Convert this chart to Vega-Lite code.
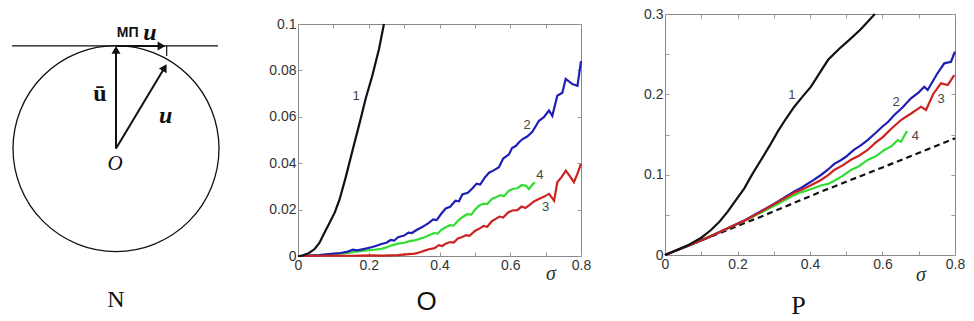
{
  "$schema": "https://vega.github.io/schema/vega-lite/v6.json",
  "padding": 0,
  "spacing": 46,
  "background": "white",
  "config": {
    "view": {"stroke": "#888", "strokeWidth": 1},
    "axis": {"grid": false, "domain": false, "labelFont": "Liberation Sans", "labelFontSize": 14, "labelColor": "#333", "tickColor": "#999", "tickSize": -4, "labelPadding": 6, "labelOverlap": false, "labelFlush": false, "titleFontWeight": "normal"}
  },
  "datasets": {
    "a_circle": [{"x": 0, "y": 0}],
    "a_line": [
      {"x": -1.01, "y": 1, "x2": 0.99, "y2": 1},
      {"x": 0.492, "y": 1, "x2": 0.492, "y2": 0.903}
    ],
    "a_arrows": [
      {"x": 0, "y": 0, "x2": 0, "y2": 0.95},
      {"x": 0, "y": 0, "x2": 0.468, "y2": 0.783},
      {"x": 0, "y": 1, "x2": 0.44, "y2": 1}
    ],
    "a_head_up": [{"x": 0, "y": 0.962}],
    "a_head_slant": [{"x": 0.4725, "y": 0.789}],
    "a_head_right": [{"x": 0.442, "y": 1}],
    "a_ubar": [{"x": -0.155, "y": 0.531, "t": "ū"}],
    "a_u": [{"x": 0.482, "y": 0.32, "t": "u"}, {"x": 0.33, "y": 1.13, "t": "u"}],
    "a_sym": [{"x": 0.113, "y": 1.13, "t": "ΜΠ"}],
    "a_o": [{"x": -0.01, "y": -0.149, "t": "O"}],
    "a_cap": [{"x": 0, "y": -1.476, "t": "N"}],
    "b": [
      {"c": "4", "x": 0, "y": 0}, {"c": "4", "x": 0.04, "y": 0.0002}, {"c": "4", "x": 0.08, "y": 0.0006}, {"c": "4", "x": 0.11, "y": 0.0009}, {"c": "4", "x": 0.141, "y": 0.0013}, {"c": "4", "x": 0.165, "y": 0.0019}, {"c": "4", "x": 0.1885, "y": 0.0023}, {"c": "4", "x": 0.21, "y": 0.0026}, {"c": "4", "x": 0.2355, "y": 0.0031}, {"c": "4", "x": 0.25, "y": 0.0037}, {"c": "4", "x": 0.265, "y": 0.0046}, {"c": "4", "x": 0.2827, "y": 0.0053}, {"c": "4", "x": 0.3, "y": 0.0057}, {"c": "4", "x": 0.315, "y": 0.0064}, {"c": "4", "x": 0.33, "y": 0.0067}, {"c": "4", "x": 0.345, "y": 0.0075}, {"c": "4", "x": 0.36, "y": 0.0082}, {"c": "4", "x": 0.37, "y": 0.0089}, {"c": "4", "x": 0.385, "y": 0.0099}, {"c": "4", "x": 0.395, "y": 0.0097}, {"c": "4", "x": 0.405, "y": 0.0113}, {"c": "4", "x": 0.4175, "y": 0.0124}, {"c": "4", "x": 0.43, "y": 0.0133}, {"c": "4", "x": 0.44, "y": 0.0131}, {"c": "4", "x": 0.452, "y": 0.0152}, {"c": "4", "x": 0.4645, "y": 0.0167}, {"c": "4", "x": 0.478, "y": 0.018}, {"c": "4", "x": 0.49, "y": 0.0178}, {"c": "4", "x": 0.5, "y": 0.0199}, {"c": "4", "x": 0.5117, "y": 0.0217}, {"c": "4", "x": 0.525, "y": 0.0226}, {"c": "4", "x": 0.535, "y": 0.0224}, {"c": "4", "x": 0.548, "y": 0.0246}, {"c": "4", "x": 0.559, "y": 0.0253}, {"c": "4", "x": 0.572, "y": 0.0262}, {"c": "4", "x": 0.582, "y": 0.0258}, {"c": "4", "x": 0.595, "y": 0.028}, {"c": "4", "x": 0.606, "y": 0.0289}, {"c": "4", "x": 0.62, "y": 0.0292}, {"c": "4", "x": 0.632, "y": 0.0305}, {"c": "4", "x": 0.644, "y": 0.0304}, {"c": "4", "x": 0.653, "y": 0.0289}, {"c": "4", "x": 0.662, "y": 0.0307}, {"c": "4", "x": 0.67, "y": 0.0318},
      {"c": "2", "x": 0, "y": 0}, {"c": "2", "x": 0.03, "y": 0.0002}, {"c": "2", "x": 0.06, "y": 0.0004}, {"c": "2", "x": 0.094, "y": 0.0009}, {"c": "2", "x": 0.12, "y": 0.0013}, {"c": "2", "x": 0.141, "y": 0.0019}, {"c": "2", "x": 0.155, "y": 0.0027}, {"c": "2", "x": 0.168, "y": 0.0024}, {"c": "2", "x": 0.1885, "y": 0.0031}, {"c": "2", "x": 0.21, "y": 0.0039}, {"c": "2", "x": 0.222, "y": 0.0044}, {"c": "2", "x": 0.2355, "y": 0.0052}, {"c": "2", "x": 0.25, "y": 0.0057}, {"c": "2", "x": 0.262, "y": 0.0069}, {"c": "2", "x": 0.272, "y": 0.0066}, {"c": "2", "x": 0.2827, "y": 0.0081}, {"c": "2", "x": 0.3, "y": 0.0088}, {"c": "2", "x": 0.312, "y": 0.0101}, {"c": "2", "x": 0.322, "y": 0.0099}, {"c": "2", "x": 0.335, "y": 0.0112}, {"c": "2", "x": 0.35, "y": 0.0124}, {"c": "2", "x": 0.36, "y": 0.0133}, {"c": "2", "x": 0.37, "y": 0.0143}, {"c": "2", "x": 0.382, "y": 0.0158}, {"c": "2", "x": 0.392, "y": 0.0155}, {"c": "2", "x": 0.405, "y": 0.0182}, {"c": "2", "x": 0.4175, "y": 0.0205}, {"c": "2", "x": 0.43, "y": 0.0212}, {"c": "2", "x": 0.445, "y": 0.0238}, {"c": "2", "x": 0.455, "y": 0.0236}, {"c": "2", "x": 0.4645, "y": 0.0265}, {"c": "2", "x": 0.48, "y": 0.0272}, {"c": "2", "x": 0.4927, "y": 0.0291}, {"c": "2", "x": 0.505, "y": 0.0312}, {"c": "2", "x": 0.515, "y": 0.0308}, {"c": "2", "x": 0.528, "y": 0.0338}, {"c": "2", "x": 0.54, "y": 0.0359}, {"c": "2", "x": 0.552, "y": 0.0368}, {"c": "2", "x": 0.568, "y": 0.0383}, {"c": "2", "x": 0.58, "y": 0.042}, {"c": "2", "x": 0.5965, "y": 0.0438}, {"c": "2", "x": 0.605, "y": 0.0465}, {"c": "2", "x": 0.6154, "y": 0.0474}, {"c": "2", "x": 0.625, "y": 0.049}, {"c": "2", "x": 0.634, "y": 0.0503}, {"c": "2", "x": 0.648, "y": 0.0515}, {"c": "2", "x": 0.6624, "y": 0.0535}, {"c": "2", "x": 0.6813, "y": 0.0583}, {"c": "2", "x": 0.695, "y": 0.0598}, {"c": "2", "x": 0.7095, "y": 0.0627}, {"c": "2", "x": 0.7189, "y": 0.0604}, {"c": "2", "x": 0.733, "y": 0.0691}, {"c": "2", "x": 0.7472, "y": 0.0704}, {"c": "2", "x": 0.7567, "y": 0.0763}, {"c": "2", "x": 0.7755, "y": 0.0741}, {"c": "2", "x": 0.79, "y": 0.0734}, {"c": "2", "x": 0.8, "y": 0.084},
      {"c": "3", "x": 0, "y": 0}, {"c": "3", "x": 0.05, "y": 0.0001}, {"c": "3", "x": 0.1, "y": 0.0002}, {"c": "3", "x": 0.15, "y": 0.0001}, {"c": "3", "x": 0.2, "y": 0.0003}, {"c": "3", "x": 0.24, "y": 0.0002}, {"c": "3", "x": 0.2827, "y": 0.0004}, {"c": "3", "x": 0.305, "y": 0.0007}, {"c": "3", "x": 0.33, "y": 0.001}, {"c": "3", "x": 0.345, "y": 0.0016}, {"c": "3", "x": 0.358, "y": 0.0023}, {"c": "3", "x": 0.37, "y": 0.0029}, {"c": "3", "x": 0.386, "y": 0.0034}, {"c": "3", "x": 0.398, "y": 0.0047}, {"c": "3", "x": 0.408, "y": 0.0043}, {"c": "3", "x": 0.4175, "y": 0.0053}, {"c": "3", "x": 0.43, "y": 0.006}, {"c": "3", "x": 0.44, "y": 0.0058}, {"c": "3", "x": 0.452, "y": 0.0076}, {"c": "3", "x": 0.4645, "y": 0.0082}, {"c": "3", "x": 0.475, "y": 0.009}, {"c": "3", "x": 0.485, "y": 0.0087}, {"c": "3", "x": 0.5, "y": 0.0108}, {"c": "3", "x": 0.5117, "y": 0.0117}, {"c": "3", "x": 0.525, "y": 0.013}, {"c": "3", "x": 0.535, "y": 0.0126}, {"c": "3", "x": 0.548, "y": 0.015}, {"c": "3", "x": 0.559, "y": 0.016}, {"c": "3", "x": 0.57, "y": 0.017}, {"c": "3", "x": 0.58, "y": 0.0166}, {"c": "3", "x": 0.594, "y": 0.0188}, {"c": "3", "x": 0.606, "y": 0.0196}, {"c": "3", "x": 0.62, "y": 0.0198}, {"c": "3", "x": 0.632, "y": 0.0213}, {"c": "3", "x": 0.643, "y": 0.0207}, {"c": "3", "x": 0.653, "y": 0.0218}, {"c": "3", "x": 0.668, "y": 0.0236}, {"c": "3", "x": 0.681, "y": 0.0246}, {"c": "3", "x": 0.696, "y": 0.0256}, {"c": "3", "x": 0.71, "y": 0.0268}, {"c": "3", "x": 0.724, "y": 0.0238}, {"c": "3", "x": 0.733, "y": 0.0318}, {"c": "3", "x": 0.745, "y": 0.034}, {"c": "3", "x": 0.757, "y": 0.0368}, {"c": "3", "x": 0.768, "y": 0.0345}, {"c": "3", "x": 0.78, "y": 0.0318}, {"c": "3", "x": 0.79, "y": 0.0355}, {"c": "3", "x": 0.8, "y": 0.0397},
      {"c": "1", "x": 0, "y": 0}, {"c": "1", "x": 0.009, "y": 0}, {"c": "1", "x": 0.03, "y": 0.0012}, {"c": "1", "x": 0.047, "y": 0.003}, {"c": "1", "x": 0.06, "y": 0.0055}, {"c": "1", "x": 0.0755, "y": 0.0102}, {"c": "1", "x": 0.09, "y": 0.0145}, {"c": "1", "x": 0.104, "y": 0.0188}, {"c": "1", "x": 0.118, "y": 0.0246}, {"c": "1", "x": 0.135, "y": 0.034}, {"c": "1", "x": 0.155, "y": 0.046}, {"c": "1", "x": 0.177, "y": 0.059}, {"c": "1", "x": 0.191, "y": 0.0677}, {"c": "1", "x": 0.21, "y": 0.0777}, {"c": "1", "x": 0.229, "y": 0.0892}, {"c": "1", "x": 0.243, "y": 0.1}
    ],
    "b_lab": [
      {"x": 0.164, "y": 0.069, "t": "1"}, {"x": 0.648, "y": 0.0565, "t": "2"}, {"x": 0.7, "y": 0.021, "t": "3"}, {"x": 0.684, "y": 0.0349, "t": "4"}
    ],
    "b_sig": [{"x": 0.715, "y": -0.0078, "t": "σ"}],
    "c": [
      {"c": "4", "x": 0, "y": 0}, {"c": "4", "x": 0.04, "y": 0.0072}, {"c": "4", "x": 0.0809, "y": 0.0143}, {"c": "4", "x": 0.125, "y": 0.0235}, {"c": "4", "x": 0.173, "y": 0.033}, {"c": "4", "x": 0.22, "y": 0.0425}, {"c": "4", "x": 0.2648, "y": 0.0528}, {"c": "4", "x": 0.31, "y": 0.0632}, {"c": "4", "x": 0.3567, "y": 0.0745}, {"c": "4", "x": 0.3752, "y": 0.078}, {"c": "4", "x": 0.4, "y": 0.0815}, {"c": "4", "x": 0.43, "y": 0.0865}, {"c": "4", "x": 0.45, "y": 0.0885}, {"c": "4", "x": 0.467, "y": 0.0925}, {"c": "4", "x": 0.49, "y": 0.0985}, {"c": "4", "x": 0.513, "y": 0.1058}, {"c": "4", "x": 0.535, "y": 0.1105}, {"c": "4", "x": 0.559, "y": 0.1183}, {"c": "4", "x": 0.58, "y": 0.1225}, {"c": "4", "x": 0.605, "y": 0.1307}, {"c": "4", "x": 0.625, "y": 0.1355}, {"c": "4", "x": 0.642, "y": 0.1431}, {"c": "4", "x": 0.651, "y": 0.141}, {"c": "4", "x": 0.6676, "y": 0.1543},
      {"c": "2", "x": 0, "y": 0}, {"c": "2", "x": 0.04, "y": 0.0072}, {"c": "2", "x": 0.0809, "y": 0.0147}, {"c": "2", "x": 0.125, "y": 0.0226}, {"c": "2", "x": 0.173, "y": 0.0332}, {"c": "2", "x": 0.22, "y": 0.0432}, {"c": "2", "x": 0.2648, "y": 0.0545}, {"c": "2", "x": 0.305, "y": 0.0648}, {"c": "2", "x": 0.3567, "y": 0.0792}, {"c": "2", "x": 0.3752, "y": 0.0835}, {"c": "2", "x": 0.4, "y": 0.0905}, {"c": "2", "x": 0.4303, "y": 0.0996}, {"c": "2", "x": 0.45, "y": 0.1065}, {"c": "2", "x": 0.467, "y": 0.1135}, {"c": "2", "x": 0.485, "y": 0.118}, {"c": "2", "x": 0.5, "y": 0.1226}, {"c": "2", "x": 0.52, "y": 0.1305}, {"c": "2", "x": 0.54, "y": 0.1365}, {"c": "2", "x": 0.559, "y": 0.1431}, {"c": "2", "x": 0.58, "y": 0.1515}, {"c": "2", "x": 0.6, "y": 0.16}, {"c": "2", "x": 0.615, "y": 0.1655}, {"c": "2", "x": 0.6326, "y": 0.1743}, {"c": "2", "x": 0.655, "y": 0.1835}, {"c": "2", "x": 0.6786, "y": 0.1951}, {"c": "2", "x": 0.7, "y": 0.2025}, {"c": "2", "x": 0.7153, "y": 0.2095}, {"c": "2", "x": 0.7246, "y": 0.2054}, {"c": "2", "x": 0.75, "y": 0.225}, {"c": "2", "x": 0.7705, "y": 0.2386}, {"c": "2", "x": 0.789, "y": 0.2406}, {"c": "2", "x": 0.8, "y": 0.2531},
      {"c": "3", "x": 0, "y": 0}, {"c": "3", "x": 0.04, "y": 0.0074}, {"c": "3", "x": 0.0809, "y": 0.0145}, {"c": "3", "x": 0.125, "y": 0.0232}, {"c": "3", "x": 0.173, "y": 0.0332}, {"c": "3", "x": 0.22, "y": 0.043}, {"c": "3", "x": 0.2648, "y": 0.054}, {"c": "3", "x": 0.31, "y": 0.0655}, {"c": "3", "x": 0.3567, "y": 0.0775}, {"c": "3", "x": 0.3752, "y": 0.0809}, {"c": "3", "x": 0.4, "y": 0.0862}, {"c": "3", "x": 0.4303, "y": 0.0934}, {"c": "3", "x": 0.45, "y": 0.0995}, {"c": "3", "x": 0.467, "y": 0.1058}, {"c": "3", "x": 0.49, "y": 0.1115}, {"c": "3", "x": 0.513, "y": 0.1185}, {"c": "3", "x": 0.535, "y": 0.1235}, {"c": "3", "x": 0.559, "y": 0.1307}, {"c": "3", "x": 0.58, "y": 0.1395}, {"c": "3", "x": 0.6, "y": 0.1465}, {"c": "3", "x": 0.625, "y": 0.1575}, {"c": "3", "x": 0.651, "y": 0.168}, {"c": "3", "x": 0.68, "y": 0.1765}, {"c": "3", "x": 0.7062, "y": 0.1846}, {"c": "3", "x": 0.72, "y": 0.1805}, {"c": "3", "x": 0.74, "y": 0.2005}, {"c": "3", "x": 0.7614, "y": 0.2137}, {"c": "3", "x": 0.78, "y": 0.2116}, {"c": "3", "x": 0.798, "y": 0.224},
      {"c": "1", "x": 0, "y": 0}, {"c": "1", "x": 0.02, "y": 0.0037}, {"c": "1", "x": 0.0441, "y": 0.0083}, {"c": "1", "x": 0.065, "y": 0.0125}, {"c": "1", "x": 0.0809, "y": 0.0166}, {"c": "1", "x": 0.1, "y": 0.0215}, {"c": "1", "x": 0.1269, "y": 0.0311}, {"c": "1", "x": 0.15, "y": 0.0415}, {"c": "1", "x": 0.173, "y": 0.054}, {"c": "1", "x": 0.195, "y": 0.068}, {"c": "1", "x": 0.2188, "y": 0.083}, {"c": "1", "x": 0.24, "y": 0.1}, {"c": "1", "x": 0.2648, "y": 0.1183}, {"c": "1", "x": 0.29, "y": 0.137}, {"c": "1", "x": 0.3109, "y": 0.1535}, {"c": "1", "x": 0.335, "y": 0.1705}, {"c": "1", "x": 0.3567, "y": 0.1846}, {"c": "1", "x": 0.38, "y": 0.1975}, {"c": "1", "x": 0.4028, "y": 0.2095}, {"c": "1", "x": 0.425, "y": 0.2255}, {"c": "1", "x": 0.45, "y": 0.243}, {"c": "1", "x": 0.48, "y": 0.2565}, {"c": "1", "x": 0.51, "y": 0.2685}, {"c": "1", "x": 0.54, "y": 0.281}, {"c": "1", "x": 0.579, "y": 0.3}
    ],
    "c_dash": [
      {"x": 0, "y": 0}, {"x": 0.1, "y": 0.0182}, {"x": 0.2, "y": 0.0362}, {"x": 0.2648, "y": 0.0477}, {"x": 0.4303, "y": 0.0788}, {"x": 0.6, "y": 0.109}, {"x": 0.8, "y": 0.1452}
    ],
    "c_lab": [
      {"x": 0.3503, "y": 0.1992, "t": "1"}, {"x": 0.6372, "y": 0.1908, "t": "2"}, {"x": 0.7614, "y": 0.1937, "t": "3"}, {"x": 0.6905, "y": 0.1481, "t": "4"}
    ],
    "c_sig": [{"x": 0.706, "y": -0.0249, "t": "σ"}],
    "spacer": []
  },
  "hconcat": [
    {
      "width": 219,
      "height": 307,
      "view": {"stroke": null},
      "encoding": {
        "x": {"field": "x", "type": "quantitative", "scale": {"domain": [-1.1262, 1.0], "nice": false, "zero": false}, "axis": null},
        "y": {"field": "y", "type": "quantitative", "scale": {"domain": [-1.6796, 1.311], "nice": false, "zero": false}, "axis": null}
      },
      "layer": [
        {"data": {"name": "a_circle"}, "mark": {"type": "point", "shape": "circle", "size": 42436, "filled": false, "color": "#111", "strokeWidth": 1.3, "opacity": 1}},
        {"data": {"name": "a_line"}, "mark": {"type": "rule", "color": "#111", "strokeWidth": 1.2}, "encoding": {"x2": {"field": "x2"}, "y2": {"field": "y2"}}},
        {"data": {"name": "a_arrows"}, "mark": {"type": "rule", "color": "#111", "strokeWidth": 2}, "encoding": {"x2": {"field": "x2"}, "y2": {"field": "y2"}}},
        {"data": {"name": "a_head_up"}, "mark": {"type": "point", "shape": "triangle-up", "size": 80, "filled": true, "color": "#111", "opacity": 1}},
        {"data": {"name": "a_head_slant"}, "mark": {"type": "point", "shape": "triangle-up", "size": 80, "filled": true, "color": "#111", "opacity": 1, "angle": 31}},
        {"data": {"name": "a_head_right"}, "mark": {"type": "point", "shape": "triangle-right", "size": 80, "filled": true, "color": "#111", "opacity": 1}},
        {"data": {"name": "a_ubar"}, "mark": {"type": "text", "font": "Liberation Serif", "fontWeight": "bold", "fontSize": 24, "color": "#111"}, "encoding": {"text": {"field": "t"}}},
        {"data": {"name": "a_u"}, "mark": {"type": "text", "font": "Liberation Serif", "fontWeight": "bold", "fontStyle": "italic", "fontSize": 24, "color": "#111"}, "encoding": {"text": {"field": "t"}}},
        {"data": {"name": "a_sym"}, "mark": {"type": "text", "font": "Liberation Sans Narrow, Liberation Sans", "fontWeight": "bold", "fontSize": 14, "color": "#111"}, "encoding": {"text": {"field": "t"}}},
        {"data": {"name": "a_o"}, "mark": {"type": "text", "font": "Liberation Serif", "fontStyle": "italic", "fontSize": 21, "color": "#111"}, "encoding": {"text": {"field": "t"}}},
        {"data": {"name": "a_cap"}, "mark": {"type": "text", "font": "Liberation Serif", "fontSize": 24, "color": "#111"}, "encoding": {"text": {"field": "t"}}}
      ]
    },
    {
      "spacing": 51,
      "hconcat": [
        {
          "spacing": 1,
          "vconcat": [
            {
              "width": 283,
              "height": 1,
              "view": {"stroke": null},
              "data": {"name": "spacer"},
              "mark": {"type": "point"},
              "encoding": {}
            },
            {
              "width": 283,
              "height": 232,
              "layer": [
                {
                  "data": {"name": "b"},
                  "mark": {"type": "line", "strokeWidth": 2.2},
                  "encoding": {
                    "x": {"field": "x", "type": "quantitative", "scale": {"domain": [0, 0.8], "nice": false}, "axis": {"orient": "bottom", "values": [0, 0.1, 0.2, 0.3, 0.4, 0.5, 0.6, 0.7, 0.8], "format": ".1~f", "labelExpr": "round(datum.value*10)%2==0 ? datum.label : ''", "title": "O", "titleFont": "Liberation Sans", "titleFontSize": 26, "titleColor": "#111", "titleX": 128, "titleY": 45, "titleBaseline": "middle", "titleAlign": "center"}},
                    "y": {"field": "y", "type": "quantitative", "scale": {"domain": [0, 0.1], "nice": false}, "axis": {"orient": "left", "values": [0, 0.02, 0.04, 0.06, 0.08, 0.1], "format": ".2~f", "title": null}},
                    "color": {"field": "c", "type": "nominal", "scale": {"domain": ["1", "2", "3", "4"], "range": ["#111111", "#1f1fb4", "#cc2222", "#33dd33"]}, "legend": null}
                  }
                },
                {
                  "data": {"name": "b_lab"},
                  "mark": {"type": "text", "font": "Liberation Sans", "fontSize": 13, "color": "#444"},
                  "encoding": {
                    "x": {"field": "x", "type": "quantitative", "scale": {"domain": [0, 0.8], "nice": false}, "axis": {"orient": "top", "values": [0, 0.1, 0.2, 0.3, 0.4, 0.5, 0.6, 0.7, 0.8], "labels": false, "title": null}},
                    "y": {"field": "y", "type": "quantitative", "scale": {"domain": [0, 0.1], "nice": false}, "axis": {"orient": "right", "values": [0, 0.02, 0.04, 0.06, 0.08, 0.1], "labels": false, "title": null}},
                    "text": {"field": "t"}
                  }
                },
                {
                  "data": {"name": "b_sig"},
                  "mark": {"type": "text", "font": "Liberation Serif", "fontStyle": "italic", "fontSize": 20, "color": "#333"},
                  "encoding": {"x": {"field": "x", "type": "quantitative", "axis": null}, "y": {"field": "y", "type": "quantitative", "axis": null}, "text": {"field": "t"}}
                }
              ],
              "resolve": {"axis": {"x": "independent", "y": "independent"}}
            }
          ]
        },
        {
          "width": 290,
          "height": 241,
          "title": {"text": " ", "fontSize": 1, "offset": 5},
          "layer": [
            {
              "data": {"name": "c_dash"},
              "mark": {"type": "line", "strokeWidth": 2.2, "strokeDash": [6, 4], "color": "#111"},
              "encoding": {
                "x": {"field": "x", "type": "quantitative", "scale": {"domain": [0, 0.8], "nice": false}, "axis": {"orient": "bottom", "values": [0, 0.1, 0.2, 0.3, 0.4, 0.5, 0.6, 0.7, 0.8], "format": ".1~f", "labelExpr": "round(datum.value*10)%2==0 ? datum.label : ''", "title": "P", "titleFont": "Liberation Serif", "titleFontSize": 26, "titleColor": "#111", "titleX": 133, "titleY": 50, "titleBaseline": "middle", "titleAlign": "center"}},
                "y": {"field": "y", "type": "quantitative", "scale": {"domain": [0, 0.3], "nice": false}, "axis": {"orient": "left", "values": [0, 0.05, 0.1, 0.15, 0.2, 0.25, 0.3], "format": ".1~f", "labelExpr": "round(datum.value*100)%10==0 ? datum.label : ''", "title": null}}
              }
            },
            {
              "data": {"name": "c"},
              "mark": {"type": "line", "strokeWidth": 2.2},
              "encoding": {
                "x": {"field": "x", "type": "quantitative", "axis": null},
                "y": {"field": "y", "type": "quantitative", "axis": null},
                "color": {"field": "c", "type": "nominal", "scale": {"domain": ["1", "2", "3", "4"], "range": ["#111111", "#1f1fb4", "#cc2222", "#33dd33"]}, "legend": null}
              }
            },
            {
              "data": {"name": "c_lab"},
              "mark": {"type": "text", "font": "Liberation Sans", "fontSize": 13, "color": "#444"},
              "encoding": {
                "x": {"field": "x", "type": "quantitative", "scale": {"domain": [0, 0.8], "nice": false}, "axis": {"orient": "top", "values": [0, 0.1, 0.2, 0.3, 0.4, 0.5, 0.6, 0.7, 0.8], "labels": false, "title": null}},
                "y": {"field": "y", "type": "quantitative", "scale": {"domain": [0, 0.3], "nice": false}, "axis": {"orient": "right", "values": [0, 0.05, 0.1, 0.15, 0.2, 0.25, 0.3], "labels": false, "title": null}},
                "text": {"field": "t"}
              }
            },
            {
              "data": {"name": "c_sig"},
              "mark": {"type": "text", "font": "Liberation Serif", "fontStyle": "italic", "fontSize": 20, "color": "#333"},
              "encoding": {"x": {"field": "x", "type": "quantitative", "axis": null}, "y": {"field": "y", "type": "quantitative", "axis": null}, "text": {"field": "t"}}
            }
          ],
          "resolve": {"axis": {"x": "independent", "y": "independent"}}
        }
      ]
    }
  ]
}
